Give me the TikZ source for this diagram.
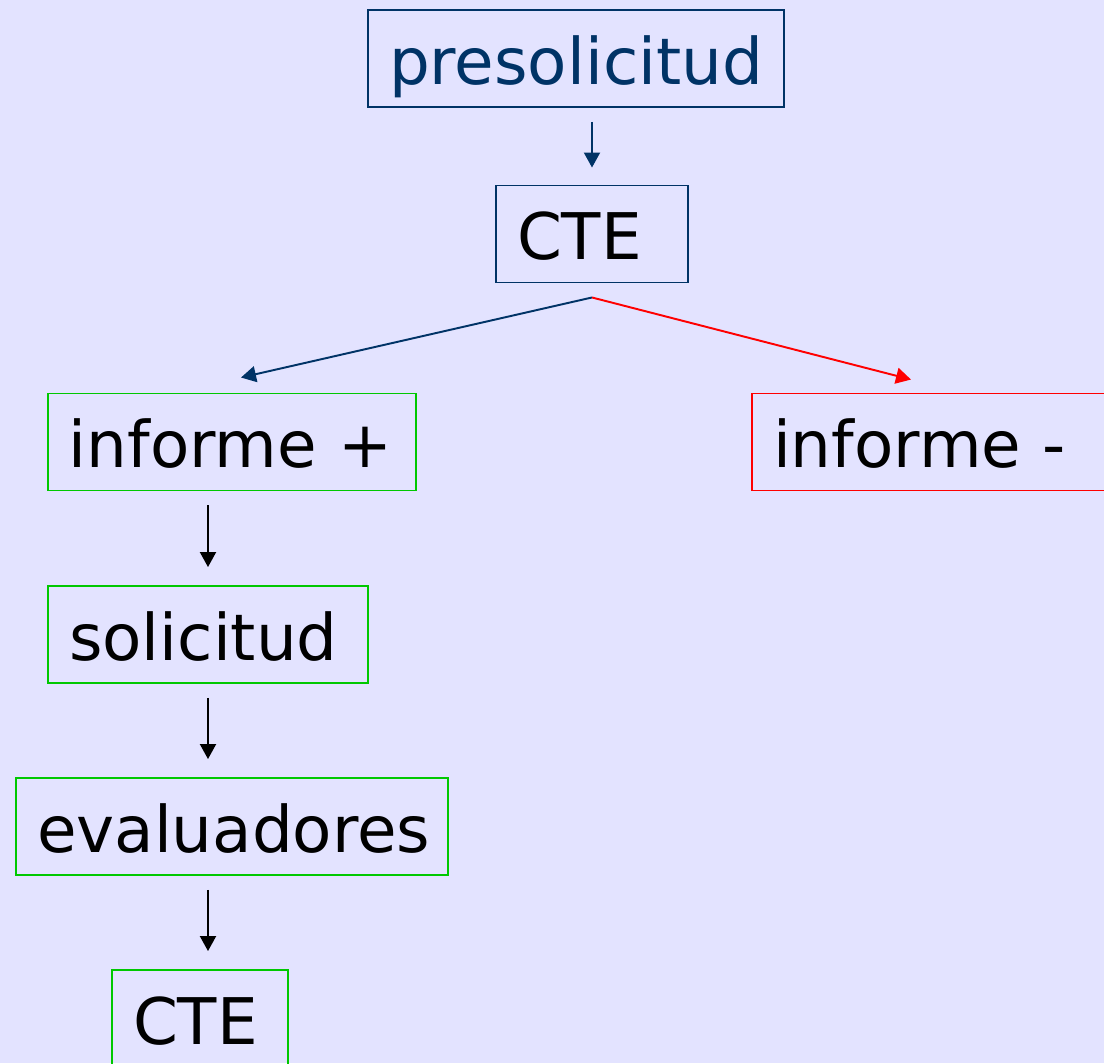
\documentclass[tikz,border=0pt]{standalone}
\usepackage{fontspec}
\setmainfont{DejaVu Sans}
\usetikzlibrary{arrows.meta}
\definecolor{fondo}{RGB}{227,227,255}
\definecolor{azul}{RGB}{0,51,102}
\definecolor{verde}{RGB}{0,200,0}
\definecolor{rojo}{RGB}{255,0,0}
\newcommand{\letracaja}{\fontsize{36.6}{44}\selectfont\spaceskip=0.42em\relax}
\tikzset{
    caja/.style={draw, line width=1.1pt, align=left, inner xsep=0.42cm,
        inner ysep=0pt, minimum height=1.94cm, text height=1.02cm, text depth=0pt,
        font=\letracaja},
    flecha/.style={line width=1.1pt, -{Triangle[length=0.3cm,width=0.32cm]}},
}
\begin{document}
\begin{tikzpicture}
                \fill[fondo] (0,0) rectangle (22.08,-21.26);
                \useasboundingbox (0,0) rectangle (22.08,-21.26);
                \clip (0,0) rectangle (22.08,-21.26);

                \node [caja, azul, text width=7.48cm] (pre) at (11.52,-1.17) {presolicitud};
                \node [caja, azul, text=black, text width=3.0cm] (cte) at (11.84,-4.68) {CTE};
                \node [caja, verde, text=black, text width=6.52cm] (infp) at (4.64,-8.84) {informe +};
                \node [caja, rojo, text=black, text width=6.76cm] (infm) at (18.84,-8.84) {informe -};
                \node [caja, verde, text=black, text width=5.56cm] (sol) at (4.16,-12.69) {solicitud};
                \node [caja, verde, text=black, text width=7.8cm] (eva) at (4.64,-16.53) {evaluadores};
                \node [caja, verde, text=black, text width=2.68cm] (cte2) at (4.0,-20.37) {CTE};

                % \draw [flecha] (pre) -- (cte);
                \draw [flecha, azul, shorten <=0.28cm, shorten >=0.34cm] (pre.south -| cte.north) -- (cte.north);
                \draw [flecha, azul] ([yshift=-0.28cm]cte.south) -- ([xshift=0.18cm,yshift=0.3cm]infp.north);
                \draw [flecha, rojo] ([yshift=-0.28cm]cte.south) -- ([xshift=-0.62cm,yshift=0.26cm]infm.north);
                \draw [flecha, shorten <=0.28cm, shorten >=0.36cm] (infp.south -| sol.north) -- (sol.north);
                \draw [flecha, shorten <=0.28cm, shorten >=0.36cm] (sol.south) -- (sol.south |- eva.north);
                \draw [flecha, shorten <=0.28cm, shorten >=0.36cm] (sol.south |- eva.south) -- (sol.south |- cte2.north);
            \end{tikzpicture}
\end{document}
